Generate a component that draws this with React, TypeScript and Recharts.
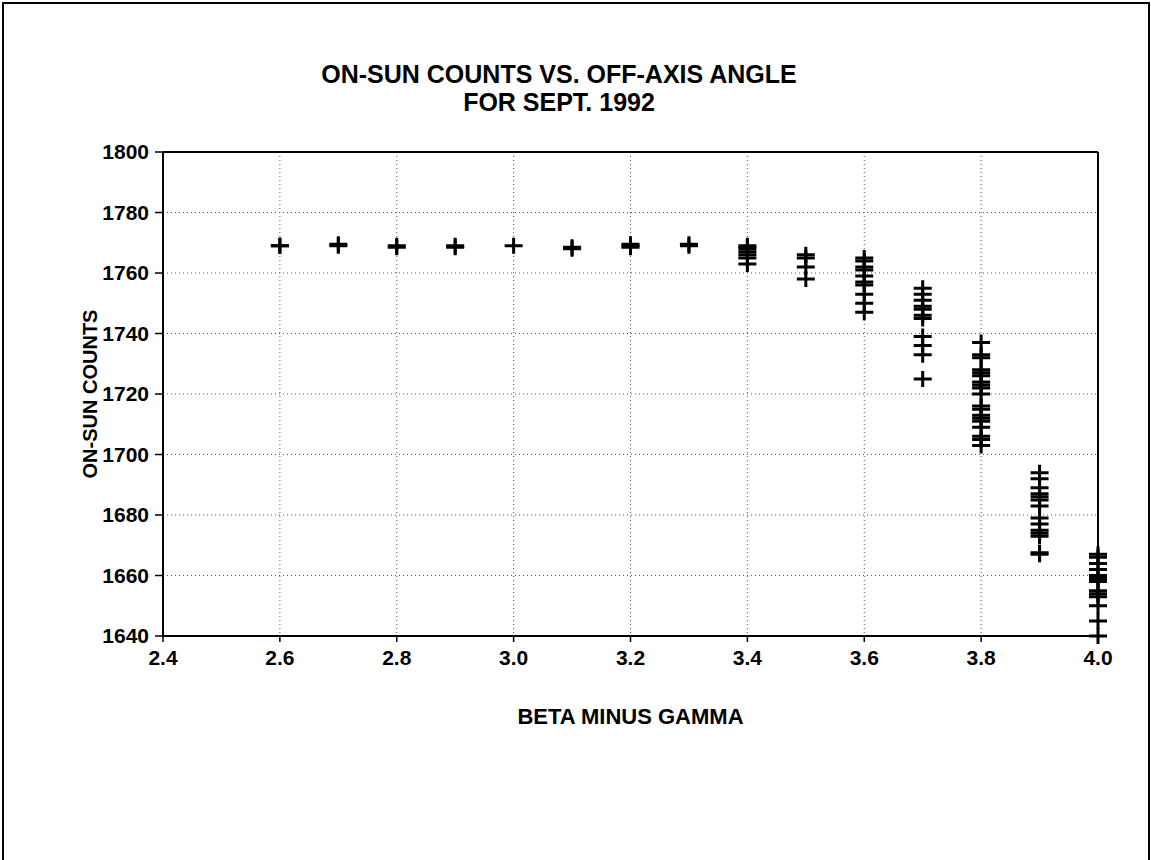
import React from 'react';
import { ScatterChart, Scatter, XAxis, YAxis, CartesianGrid, ReferenceLine } from 'recharts';

// off-axis angle (beta minus gamma) and the on-sun counts read at each angle
const angles = [2.6, 2.7, 2.8, 2.9, 3.0, 3.1, 3.2, 3.3, 3.4, 3.5, 3.6, 3.7, 3.8, 3.9, 4.0];

const counts26 = [1769, 1769];
const counts27 = [1769.5, 1769];
const counts28 = [1769, 1768.5];
const counts29 = [1769, 1768.5];
const counts30 = [1769];
const counts31 = [1768.5, 1768];
const counts32 = [1769.5, 1769, 1768.5];
const counts33 = [1769.5, 1769];
const counts34 = [1769, 1768.5, 1768, 1767, 1766, 1765, 1763];
const counts35 = [1766, 1765, 1762, 1758];
const counts36 = [1765, 1764, 1762, 1761, 1759, 1757, 1756, 1753, 1750, 1747];
const counts37 = [1755, 1753, 1751, 1749, 1748, 1746, 1745, 1739, 1736, 1733, 1725];
const counts38 = [1737, 1733, 1732, 1728, 1727, 1726, 1724, 1723, 1722, 1720, 1716, 1715, 1713, 1712, 1711, 1709, 1706, 1705, 1703];
const counts39 = [1694, 1692, 1689, 1687, 1686, 1685, 1683, 1679, 1677, 1675, 1674, 1673, 1667.5, 1667];
const counts40 = [1667, 1666, 1664, 1662, 1660, 1659, 1658, 1655, 1654, 1653, 1650, 1645, 1640];

const countsByAngle = [
  counts26, counts27, counts28, counts29, counts30, counts31, counts32, counts33,
  counts34, counts35, counts36, counts37, counts38, counts39, counts40,
];

const xTicks = [2.4, 2.6, 2.8, 3.0, 3.2, 3.4, 3.6, 3.8, 4.0];
const yTicks = [1640, 1660, 1680, 1700, 1720, 1740, 1760, 1780, 1800];

const points = angles.flatMap((angle, i) =>
  countsByAngle[i].map((count) => ({ angle, count }))
);

const FONT = '"Liberation Sans", Arial, Helvetica, sans-serif';

const Cross = (props: any) => {
  const { cx, cy } = props;
  if (cx == null || cy == null) return null;
  return (
    <path
      d={`M${cx - 9},${cy}H${cx + 9}M${cx},${cy - 8}V${cy + 8}`}
      stroke="#000"
      strokeWidth={3}
      fill="none"
    />
  );
};

const App: React.FC = () => {
  return (
    <div style={{ position: 'relative', width: 1151, height: 860, overflow: 'hidden', background: '#fff' }}>
      <style>{'body { margin: 0; }'}</style>
      <div
        style={{
          position: 'absolute',
          left: 2,
          top: 2,
          width: 1144,
          height: 900,
          borderTop: '2px solid #000',
          borderLeft: '2px solid #000',
          borderRight: '2px solid #000',
        }}
      />
      <div
        style={{
          position: 'absolute',
          left: 0,
          top: 60,
          width: 1118,
          textAlign: 'center',
          fontFamily: FONT,
          fontWeight: 700,
          fontSize: 25,
          lineHeight: '28px',
          color: '#000',
        }}
      >
        ON-SUN COUNTS VS. OFF-AXIS ANGLE
        <br />
        FOR SEPT. 1992
      </div>
      <ScatterChart
        width={1151}
        height={860}
        margin={{ top: 152, right: 53, bottom: 164, left: 60 }}
      >
        <CartesianGrid stroke="#555" strokeDasharray="1 3" />
        <XAxis
          type="number"
          dataKey="angle"
          domain={[2.4, 4.0]}
          ticks={xTicks}
          tickFormatter={(v: number) => v.toFixed(1)}
          height={60}
          axisLine={{ stroke: '#000', strokeWidth: 2 }}
          tickLine={{ stroke: '#000', strokeWidth: 1.5 }}
          tickSize={6}
          tickMargin={8}
          tick={{ fill: '#000', fontSize: 21, fontWeight: 700, fontFamily: FONT }}
          label={{
            value: 'BETA MINUS GAMMA',
            position: 'bottom',
            offset: 12,
            style: { fill: '#000', fontSize: 22, fontWeight: 700, fontFamily: FONT },
          }}
        />
        <YAxis
          type="number"
          dataKey="count"
          domain={[1640, 1800]}
          ticks={yTicks}
          width={103}
          axisLine={{ stroke: '#000', strokeWidth: 2 }}
          tickLine={{ stroke: '#000', strokeWidth: 1.5 }}
          tickSize={8}
          tickMargin={6}
          tick={{ fill: '#000', fontSize: 21, fontWeight: 700, fontFamily: FONT }}
          label={{
            value: 'ON-SUN COUNTS',
            angle: -90,
            position: 'insideLeft',
            offset: 30,
            style: { textAnchor: 'middle', fill: '#000', fontSize: 20, fontWeight: 700, fontFamily: FONT },
          }}
        />
        <ReferenceLine y={1800} stroke="#000" strokeWidth={2} />
        <ReferenceLine x={4.0} stroke="#000" strokeWidth={2} />
        <Scatter data={points} shape={Cross} isAnimationActive={false} />
      </ScatterChart>
    </div>
  );
};

export default App;
